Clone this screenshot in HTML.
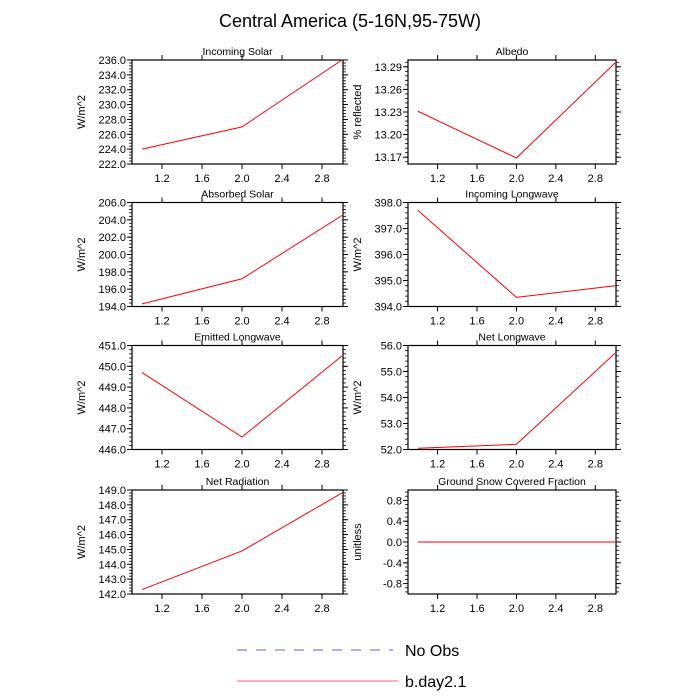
<!DOCTYPE html>
<html><head><meta charset="utf-8"><style>
body{margin:0;background:#fff}
svg{display:block;font-family:"Liberation Sans",sans-serif}
</style></head><body>
<svg id="c" width="700" height="700" viewBox="0 0 700 700">
<text x="350" y="27" text-anchor="middle" font-size="18">Central America (5-16N,95-75W)</text>
<g>
<line x1="237" y1="650" x2="393" y2="650" stroke="#5560e0" stroke-width="1" stroke-dasharray="10,9"/>
<text x="405" y="656" font-size="16">No Obs</text>
<line x1="237" y1="681" x2="398" y2="681" stroke="#ff6060" stroke-width="1"/>
<text x="405" y="687" font-size="16">b.day2.1</text>
</g>
</svg>
<script>
const xs = [1, 2, 3];
const titles = ["Incoming Solar","Albedo","Absorbed Solar","Incoming Longwave","Emitted Longwave","Net Longwave","Net Radiation","Ground Snow Covered Fraction"];
const units = ["W/m^2","% reflected","W/m^2","W/m^2","W/m^2","W/m^2","W/m^2","unitless"];
const vIncSolar = [224.0, 227.0, 236.0];
const vAlbedo = [13.231, 13.169, 13.295];
const vAbsSolar = [194.3, 197.2, 204.5];
const vIncLW = [397.7, 394.35, 394.8];
const vEmitLW = [449.7, 446.6, 450.5];
const vNetLW = [52.05, 52.2, 55.7];
const vNetRad = [142.3, 144.9, 148.8];
const vSnow = [0, 0, 0];
const yMins = [222, 13.161, 194, 394, 446, 52, 142, -1];
const yMaxs = [236, 13.299, 206, 398, 451, 56, 149, 1];
const yTicks = [
 [222,224,226,228,230,232,234,236],
 [13.17,13.20,13.23,13.26,13.29],
 [194,196,198,200,202,204,206],
 [394,395,396,397,398],
 [446,447,448,449,450,451],
 [52,53,54,55,56],
 [142,143,144,145,146,147,148,149],
 [-0.8,-0.4,0,0.4,0.8]
];
const yDec = [1,2,1,1,1,1,1,1];
const xTicks = [1.2, 1.6, 2.0, 2.4, 2.8];
const series = [vIncSolar,vAlbedo,vAbsSolar,vIncLW,vEmitLW,vNetLW,vNetRad,vSnow];
const NS = "http://www.w3.org/2000/svg";
const svg = document.getElementById('c');
const lefts = [132, 408], widths = [211, 208], tops = [60, 202.5, 345.5, 490], H = 104;
const xMin = 0.9, xMax = 3.01;
function mk(tag, attrs, parent){const e=document.createElementNS(NS,tag);for(const k in attrs)e.setAttribute(k,attrs[k]);(parent||svg).appendChild(e);return e;}
for (let i = 0; i < 8; i++) {
  const col = i % 2, row = Math.floor(i / 2);
  const L = lefts[col], W = widths[col], T = tops[row], B = T + H, R = L + W;
  const g = mk('g', {});
  
  
  const sx = x => L + (x - xMin) / (xMax - xMin) * W;
  const sy = y => B - (y - yMins[i]) / (yMaxs[i] - yMins[i]) * H;
  const fr = mk('rect', {x:L, y:T, width:W, height:H, fill:'none', stroke:'#000', 'stroke-width':1.2}, g);
  
  
  const tt = mk('text', {x:(L+R)/2, y:T-5, 'text-anchor':'middle', 'font-size':10.5}, g);
  tt.textContent = titles[i];
  
  
  const yl = mk('text', {transform:`translate(${L-47},${(T+B)/2}) rotate(-90)`, 'text-anchor':'middle', 'font-size':11}, g);
  yl.textContent = units[i];
  
  
  // y ticks
  const yt = yTicks[i];
  const step = yt[1] - yt[0];
  for (let k = 0; k < yt.length; k++) {
    const y = sy(yt[k]);
    mk('line', {x1:L-5, y1:y, x2:L, y2:y, stroke:'#000'}, g);
    mk('line', {x1:R, y1:y, x2:R+5, y2:y, stroke:'#000'}, g);
    const t = mk('text', {x:L-6, y:y+4, 'text-anchor':'end', 'font-size':11}, g);
    t.textContent = yt[k].toFixed(yDec[i]);
    
    
  }
  for (let v = yt[0] - step; v <= yMaxs[i] + 1e-9; v += step / 5) {
    if (v < yMins[i] - 1e-9) continue;
    const y = sy(v);
    mk('line', {x1:L-3, y1:y, x2:L, y2:y, stroke:'#000', 'stroke-width':0.8}, g);
    mk('line', {x1:R, y1:y, x2:R+3, y2:y, stroke:'#000', 'stroke-width':0.8}, g);
  }
  // x ticks
  for (const xv of xTicks) {
    const x = sx(xv);
    mk('line', {x1:x, y1:B, x2:x, y2:B+5, stroke:'#000'}, g);
    mk('line', {x1:x, y1:T-5, x2:x, y2:T, stroke:'#000'}, g);
    const t = mk('text', {x:x, y:B+18, 'text-anchor':'middle', 'font-size':11}, g);
    t.textContent = xv.toFixed(1);
    
    
  }
  const pts = xs.map((x, k) => sx(x) + ',' + sy(series[i][k])).join(' ');
  const pl = mk('polyline', {points:pts, fill:'none', stroke:'#ff0000', 'stroke-width':1}, g);
  
  
}
</script>
</body></html>
